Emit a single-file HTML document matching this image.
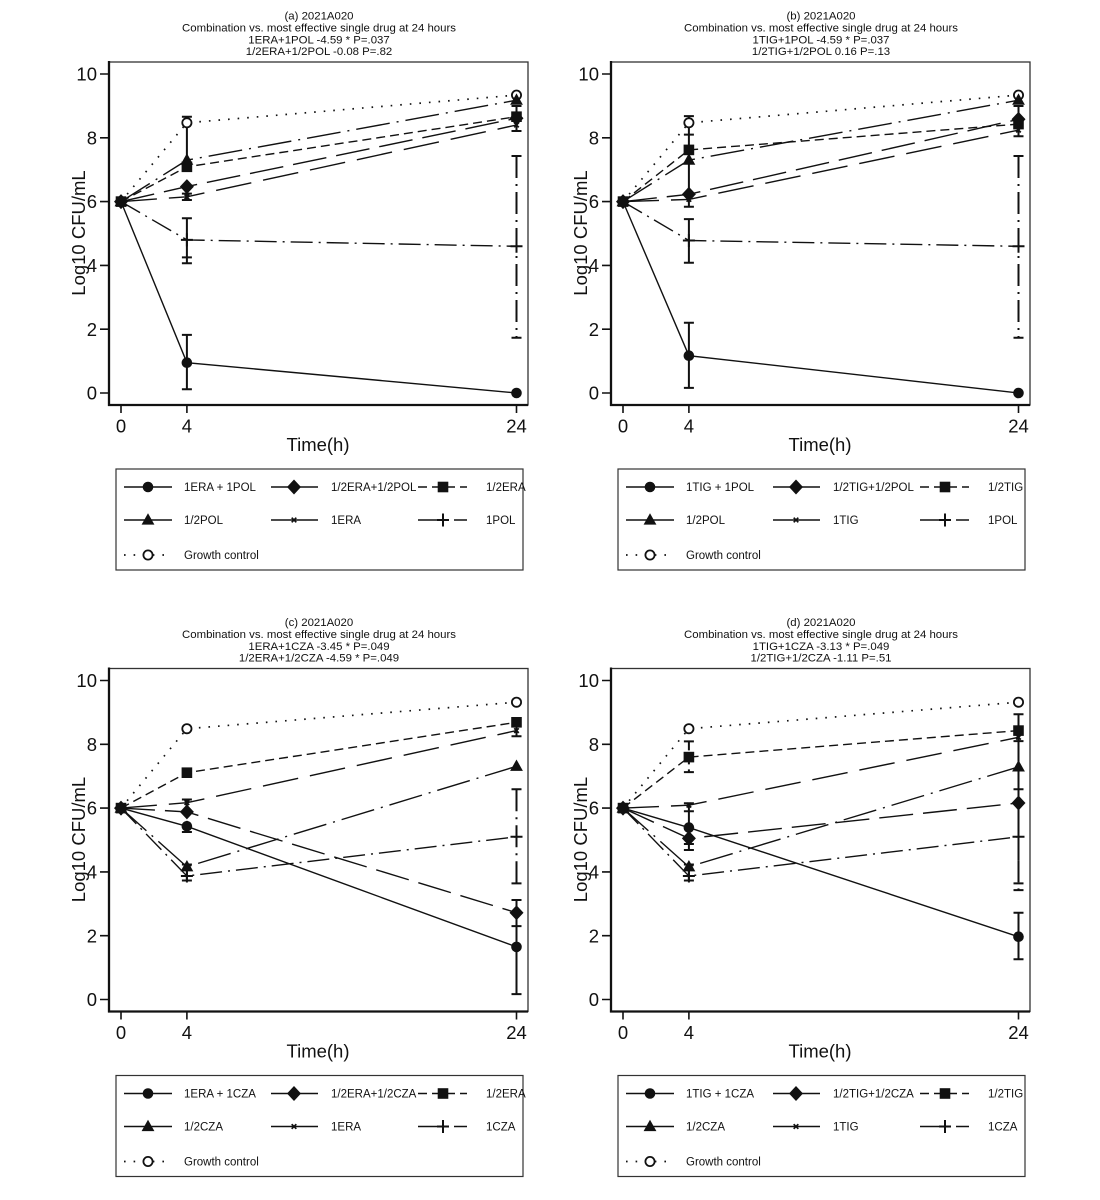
<!DOCTYPE html>
<html>
<head>
<meta charset="utf-8">
<style>
html,body{margin:0;padding:0;background:#fff;}
svg{display:block;}
.l{fill:none;stroke:#111;stroke-width:1.4;}
.d1{stroke-dasharray:34 10;}
.d2{stroke-dasharray:9 5;}
.d3{stroke-dasharray:34 7 2 7;}
.d4{stroke-dasharray:36 12;}
.d5{stroke-dasharray:22 6 2 6;}
.d6{stroke-dasharray:1.6 8;stroke-width:1.7;}
.e{fill:none;stroke:#111;stroke-width:2;}
.t{font-size:11.4px;text-anchor:middle;fill:#111;}
.g{font-size:11.5px;fill:#111;}
.ax{font-size:18.5px;fill:#111;}
.yl{text-anchor:end;}
.xl{text-anchor:middle;}
</style>
</head>
<body>
<svg width="1100" height="1200" viewBox="0 0 1100 1200" xmlns="http://www.w3.org/2000/svg" font-family="'Liberation Sans', Arial, Helvetica, sans-serif">
<defs>
  <g id="axes">
    <rect x="109" y="62" width="419" height="343" fill="none" stroke="#333" stroke-width="1.3"/>
    <path d="M109,61 V406 M108,405 H528" stroke="#111" stroke-width="2.3" fill="none"/>
    <path d="M100,74 H109 M100,137.8 H109 M100,201.6 H109 M100,265.4 H109 M100,329.2 H109 M100,393 H109 M121,405 V413 M186.9,405 V413 M516.5,405 V413" stroke="#111" stroke-width="1.6" fill="none"/>
  </g>
  <circle id="mc" r="5.3" fill="#111"/>
  <path id="md" d="M0,-7.5 L7,0 L0,7.5 L-7,0Z" fill="#111"/>
  <rect id="ms" x="-5.3" y="-5.3" width="10.6" height="10.6" fill="#111"/>
  <path id="mt" d="M0,-6.8 L6.4,4.6 L-6.4,4.6Z" fill="#111"/>
  <path id="mx" d="M-2.3,-2.3 L2.3,2.3 M-2.3,2.3 L2.3,-2.3" stroke="#111" stroke-width="1.7" fill="none"/>
  <path id="mp" d="M-6,0 H6 M0,-6.5 V6.5" stroke="#111" stroke-width="2" fill="none"/>
  <circle id="mo" r="4.6" fill="#fff" stroke="#111" stroke-width="1.8"/>
  <g id="zero">
    <use href="#mo" x="121" y="201.6"/>
    <use href="#mx" x="121" y="201.6"/>
    <use href="#mp" x="121" y="201.6"/>
    <use href="#mt" x="121" y="201.6"/>
    <use href="#ms" x="121" y="201.6"/>
    <use href="#md" x="121" y="201.6"/>
    <use href="#mc" x="121" y="201.6"/>
  </g>
  <g id="leg">
    <rect x="116" y="469" width="407" height="101" fill="none" stroke="#333" stroke-width="1.2"/>
    <line class="l" x1="124" y1="487" x2="172" y2="487"/><use href="#mc" x="148" y="487"/>
    <line class="l" x1="271" y1="487" x2="318" y2="487"/><use href="#md" x="294" y="487"/>
    <line class="l d2" x1="418" y1="487" x2="467" y2="487"/><use href="#ms" x="443" y="487"/>
    <line class="l" x1="124" y1="520" x2="172" y2="520"/><use href="#mt" x="148" y="520"/>
    <line class="l" x1="271" y1="520" x2="318" y2="520"/><use href="#mx" x="294" y="520"/>
    <line class="l d5" x1="418" y1="520" x2="467" y2="520"/><use href="#mp" x="443" y="520"/>
    <line class="l d6" x1="124" y1="555" x2="172" y2="555"/><use href="#mo" x="148" y="555"/>
  </g>
</defs>

<!-- ===================== Panel (a) ===================== -->
<g transform="translate(0,0)">
  <text class="t" x="319" y="19.5">(a) 2021A020</text>
  <text class="t" x="319" y="31.3">Combination vs. most effective single drug at 24 hours</text>
  <text class="t" x="319" y="43.3">1ERA+1POL -4.59 * P=.037</text>
  <text class="t" x="319" y="55">1/2ERA+1/2POL -0.08 P=.82</text>
  <use href="#axes"/>
  <text class="ax yl" x="97" y="80.6">10</text>
  <text class="ax yl" x="97" y="144.4">8</text>
  <text class="ax yl" x="97" y="208.2">6</text>
  <text class="ax yl" x="97" y="272">4</text>
  <text class="ax yl" x="97" y="335.8">2</text>
  <text class="ax yl" x="97" y="399.6">0</text>
  <text class="ax xl" x="121" y="432.5">0</text>
  <text class="ax xl" x="186.9" y="432.5">4</text>
  <text class="ax xl" x="516.5" y="432.5">24</text>
  <text class="ax xl" x="318" y="451">Time(h)</text>
  <text class="ax xl" transform="translate(85,233) rotate(-90)">Log10 CFU/mL</text>

  <polyline class="l d6" points="121,201.6 186.9,122.8 516.5,95.1"/>
  <polyline class="l d3" points="121,201.6 186.9,160.1 516.5,100.2"/>
  <polyline class="l d2" points="121,201.6 186.9,166.8 516.5,116.7"/>
  <polyline class="l d1" points="121,201.6 186.9,186.6 516.5,118.3"/>
  <polyline class="l d4" points="121,201.6 186.9,196.8 516.5,125"/>
  <polyline class="l d5" points="121,201.6 186.9,239.9 516.5,246.3"/>
  <polyline class="l" points="121,201.6 186.9,362.7 516.5,393"/>

  <path class="e" d="M186.9,116.7 V160.1 M181.9,116.7 H191.9"/>
  <path class="e" d="M186.9,193.6 V200 M181.9,193.6 H191.9 M181.9,200 H191.9"/>
  <path class="e" d="M186.9,218.2 V263.2 M181.9,218.2 H191.9 M181.9,257.4 H191.9 M181.9,263.2 H191.9"/>
  <path class="e" d="M186.9,334.9 V389.2 M181.9,334.9 H191.9 M181.9,389.2 H191.9"/>
  <path class="e d5" d="M516.5,156 V337.8"/>
  <path class="e" d="M511.5,156 H521.5 M511.5,337.8 H521.5"/>
  <path class="e" d="M516.5,106 V131 M511.5,106 H521.5 M511.5,131 H521.5"/>

  <use href="#zero"/>
  <use href="#mo" x="186.9" y="122.8"/><use href="#mo" x="516.5" y="95.1"/>
  <use href="#mt" x="186.9" y="160.1"/><use href="#mt" x="516.5" y="100.2"/>
  <use href="#ms" x="186.9" y="166.8"/><use href="#ms" x="516.5" y="116.7"/>
  <use href="#md" x="186.9" y="186.6"/><use href="#md" x="516.5" y="118.3"/>
  <use href="#mx" x="186.9" y="196.8"/><use href="#mx" x="516.5" y="125"/>
  <use href="#mp" x="186.9" y="239.9"/><use href="#mp" x="516.5" y="246.3"/>
  <use href="#mc" x="186.9" y="362.7"/><use href="#mc" x="516.5" y="393"/>

  <use href="#leg"/>
  <text class="g" x="184" y="491">1ERA + 1POL</text>
  <text class="g" x="331" y="491">1/2ERA+1/2POL</text>
  <text class="g" x="486" y="491">1/2ERA</text>
  <text class="g" x="184" y="524">1/2POL</text>
  <text class="g" x="331" y="524">1ERA</text>
  <text class="g" x="486" y="524">1POL</text>
  <text class="g" x="184" y="559">Growth control</text>
</g>

<!-- ===================== Panel (b) ===================== -->
<g transform="translate(502,0)">
  <text class="t" x="319" y="19.5">(b) 2021A020</text>
  <text class="t" x="319" y="31.3">Combination vs. most effective single drug at 24 hours</text>
  <text class="t" x="319" y="43.3">1TIG+1POL -4.59 * P=.037</text>
  <text class="t" x="319" y="55">1/2TIG+1/2POL 0.16 P=.13</text>
  <use href="#axes"/>
  <text class="ax yl" x="97" y="80.6">10</text>
  <text class="ax yl" x="97" y="144.4">8</text>
  <text class="ax yl" x="97" y="208.2">6</text>
  <text class="ax yl" x="97" y="272">4</text>
  <text class="ax yl" x="97" y="335.8">2</text>
  <text class="ax yl" x="97" y="399.6">0</text>
  <text class="ax xl" x="121" y="432.5">0</text>
  <text class="ax xl" x="186.9" y="432.5">4</text>
  <text class="ax xl" x="516.5" y="432.5">24</text>
  <text class="ax xl" x="318" y="451">Time(h)</text>
  <text class="ax xl" transform="translate(85,233) rotate(-90)">Log10 CFU/mL</text>

  <polyline class="l d6" points="121,201.6 186.9,122.8 516.5,95.1"/>
  <polyline class="l d2" points="121,201.6 186.9,149.9 516.5,124.1"/>
  <polyline class="l d3" points="121,201.6 186.9,160.1 516.5,100.2"/>
  <polyline class="l d1" points="121,201.6 186.9,194.3 516.5,119.3"/>
  <polyline class="l d4" points="121,201.6 186.9,199.4 516.5,130.1"/>
  <polyline class="l d5" points="121,201.6 186.9,240.5 516.5,246.3"/>
  <polyline class="l" points="121,201.6 186.9,355.7 516.5,393"/>

  <path class="e" d="M186.9,116.1 V206.7 M181.9,116.1 H191.9 M181.9,134.6 H191.9 M181.9,206.7 H191.9"/>
  <path class="e" d="M186.9,219.1 V262.8 M181.9,219.1 H191.9 M181.9,262.8 H191.9"/>
  <path class="e" d="M186.9,322.8 V387.9 M181.9,322.8 H191.9 M181.9,387.9 H191.9"/>
  <path class="e d5" d="M516.5,156 V337.8"/>
  <path class="e" d="M511.5,156 H521.5 M511.5,337.8 H521.5"/>
  <path class="e" d="M516.5,106 V136.2 M511.5,106 H521.5 M511.5,136.2 H521.5"/>

  <use href="#zero"/>
  <use href="#mo" x="186.9" y="122.8"/><use href="#mo" x="516.5" y="95.1"/>
  <use href="#ms" x="186.9" y="149.9"/><use href="#ms" x="516.5" y="124.1"/>
  <use href="#mt" x="186.9" y="160.1"/><use href="#mt" x="516.5" y="100.2"/>
  <use href="#md" x="186.9" y="194.3"/><use href="#md" x="516.5" y="119.3"/>
  <use href="#mx" x="186.9" y="199.4"/><use href="#mx" x="516.5" y="130.1"/>
  <use href="#mp" x="186.9" y="240.5"/><use href="#mp" x="516.5" y="246.3"/>
  <use href="#mc" x="186.9" y="355.7"/><use href="#mc" x="516.5" y="393"/>

  <use href="#leg"/>
  <text class="g" x="184" y="491">1TIG + 1POL</text>
  <text class="g" x="331" y="491">1/2TIG+1/2POL</text>
  <text class="g" x="486" y="491">1/2TIG</text>
  <text class="g" x="184" y="524">1/2POL</text>
  <text class="g" x="331" y="524">1TIG</text>
  <text class="g" x="486" y="524">1POL</text>
  <text class="g" x="184" y="559">Growth control</text>
</g>

<!-- ===================== Panel (c) ===================== -->
<g transform="translate(0,606.5)">
  <text class="t" x="319" y="19.5">(c) 2021A020</text>
  <text class="t" x="319" y="31.3">Combination vs. most effective single drug at 24 hours</text>
  <text class="t" x="319" y="43.3">1ERA+1CZA -3.45 * P=.049</text>
  <text class="t" x="319" y="55">1/2ERA+1/2CZA -4.59 * P=.049</text>
  <use href="#axes"/>
  <text class="ax yl" x="97" y="80.6">10</text>
  <text class="ax yl" x="97" y="144.4">8</text>
  <text class="ax yl" x="97" y="208.2">6</text>
  <text class="ax yl" x="97" y="272">4</text>
  <text class="ax yl" x="97" y="335.8">2</text>
  <text class="ax yl" x="97" y="399.6">0</text>
  <text class="ax xl" x="121" y="432.5">0</text>
  <text class="ax xl" x="186.9" y="432.5">4</text>
  <text class="ax xl" x="516.5" y="432.5">24</text>
  <text class="ax xl" x="318" y="451">Time(h)</text>
  <text class="ax xl" transform="translate(85,233) rotate(-90)">Log10 CFU/mL</text>

  <polyline class="l d6" points="121,201.6 186.9,122.2 516.5,95.7"/>
  <polyline class="l d2" points="121,201.6 186.9,166.2 516.5,115.8"/>
  <polyline class="l d4" points="121,201.6 186.9,196.2 516.5,124.1"/>
  <polyline class="l d3" points="121,201.6 186.9,260.3 516.5,159.8"/>
  <polyline class="l d5" points="121,201.6 186.9,269.5 516.5,230.3"/>
  <polyline class="l d1" points="121,201.6 186.9,205.4 516.5,306.2"/>
  <polyline class="l" points="121,201.6 186.9,219.8 516.5,340.4"/>

  <path class="e" d="M186.9,193 V200 M181.9,193 H191.9"/>
  <path class="e" d="M186.9,214.4 V225.5 M181.9,225.5 H191.9"/>
  <path class="e" d="M186.9,258 V274 M181.9,258 H191.9 M181.9,274 H191.9"/>
  <path class="e" d="M516.5,118.7 V129.8 M511.5,118.7 H521.5 M511.5,129.8 H521.5"/>
  <path class="e d5" d="M516.5,182.8 V276.9"/>
  <path class="e" d="M511.5,182.8 H521.5 M511.5,276.9 H521.5"/>
  <path class="e" d="M516.5,293.5 V387.6 M511.5,293.5 H521.5 M511.5,319.6 H521.5 M511.5,387.6 H521.5"/>

  <use href="#zero"/>
  <use href="#mo" x="186.9" y="122.2"/><use href="#mo" x="516.5" y="95.7"/>
  <use href="#ms" x="186.9" y="166.2"/><use href="#ms" x="516.5" y="115.8"/>
  <use href="#mx" x="186.9" y="196.2"/><use href="#mx" x="516.5" y="124.1"/>
  <use href="#mt" x="186.9" y="260.3"/><use href="#mt" x="516.5" y="159.8"/>
  <use href="#mp" x="186.9" y="269.5"/><use href="#mp" x="516.5" y="230.3"/>
  <use href="#md" x="186.9" y="205.4"/><use href="#md" x="516.5" y="306.2"/>
  <use href="#mc" x="186.9" y="219.8"/><use href="#mc" x="516.5" y="340.4"/>

  <use href="#leg"/>
  <text class="g" x="184" y="491">1ERA + 1CZA</text>
  <text class="g" x="331" y="491">1/2ERA+1/2CZA</text>
  <text class="g" x="486" y="491">1/2ERA</text>
  <text class="g" x="184" y="524">1/2CZA</text>
  <text class="g" x="331" y="524">1ERA</text>
  <text class="g" x="486" y="524">1CZA</text>
  <text class="g" x="184" y="559">Growth control</text>
</g>

<!-- ===================== Panel (d) ===================== -->
<g transform="translate(502,606.5)">
  <text class="t" x="319" y="19.5">(d) 2021A020</text>
  <text class="t" x="319" y="31.3">Combination vs. most effective single drug at 24 hours</text>
  <text class="t" x="319" y="43.3">1TIG+1CZA -3.13 * P=.049</text>
  <text class="t" x="319" y="55">1/2TIG+1/2CZA -1.11 P=.51</text>
  <use href="#axes"/>
  <text class="ax yl" x="97" y="80.6">10</text>
  <text class="ax yl" x="97" y="144.4">8</text>
  <text class="ax yl" x="97" y="208.2">6</text>
  <text class="ax yl" x="97" y="272">4</text>
  <text class="ax yl" x="97" y="335.8">2</text>
  <text class="ax yl" x="97" y="399.6">0</text>
  <text class="ax xl" x="121" y="432.5">0</text>
  <text class="ax xl" x="186.9" y="432.5">4</text>
  <text class="ax xl" x="516.5" y="432.5">24</text>
  <text class="ax xl" x="318" y="451">Time(h)</text>
  <text class="ax xl" transform="translate(85,233) rotate(-90)">Log10 CFU/mL</text>

  <polyline class="l d6" points="121,201.6 186.9,122.2 516.5,95.7"/>
  <polyline class="l d2" points="121,201.6 186.9,150.6 516.5,124.1"/>
  <polyline class="l d4" points="121,201.6 186.9,198.7 516.5,130.8"/>
  <polyline class="l d3" points="121,201.6 186.9,260.3 516.5,160.4"/>
  <polyline class="l d1" points="121,201.6 186.9,231.9 516.5,196.5"/>
  <polyline class="l d5" points="121,201.6 186.9,269.5 516.5,230.3"/>
  <polyline class="l" points="121,201.6 186.9,221.1 516.5,330.2"/>

  <path class="e d2" d="M186.9,134.9 V165.6"/>
  <path class="e" d="M181.9,134.9 H191.9 M181.9,165.6 H191.9"/>
  <path class="e" d="M186.9,196.8 V244 M181.9,196.8 H191.9 M181.9,204.8 H191.9 M181.9,237.5 H191.9 M181.9,243.5 H191.9"/>
  <path class="e" d="M186.9,258 V274 M181.9,258 H191.9 M181.9,274 H191.9"/>
  <path class="e" d="M516.5,107.8 V253.9 M511.5,107.8 H521.5 M511.5,134.6 H521.5 M511.5,182.8 H521.5"/>
  <path class="e d5" d="M516.5,253.9 V283.6"/>
  <path class="e" d="M511.5,276.9 H521.5 M511.5,283.6 H521.5"/>
  <path class="e" d="M516.5,306.2 V352.8 M511.5,306.2 H521.5 M511.5,352.8 H521.5"/>

  <use href="#zero"/>
  <use href="#mo" x="186.9" y="122.2"/><use href="#mo" x="516.5" y="95.7"/>
  <use href="#ms" x="186.9" y="150.6"/><use href="#ms" x="516.5" y="124.1"/>
  <use href="#mx" x="186.9" y="198.7"/><use href="#mx" x="516.5" y="130.8"/>
  <use href="#mt" x="186.9" y="260.3"/><use href="#mt" x="516.5" y="160.4"/>
  <use href="#md" x="186.9" y="231.9"/><use href="#md" x="516.5" y="196.5"/>
  <use href="#mp" x="186.9" y="269.5"/><use href="#mp" x="516.5" y="230.3"/>
  <use href="#mc" x="186.9" y="221.1"/><use href="#mc" x="516.5" y="330.2"/>

  <use href="#leg"/>
  <text class="g" x="184" y="491">1TIG + 1CZA</text>
  <text class="g" x="331" y="491">1/2TIG+1/2CZA</text>
  <text class="g" x="486" y="491">1/2TIG</text>
  <text class="g" x="184" y="524">1/2CZA</text>
  <text class="g" x="331" y="524">1TIG</text>
  <text class="g" x="486" y="524">1CZA</text>
  <text class="g" x="184" y="559">Growth control</text>
</g>
</svg>
</body>
</html>
